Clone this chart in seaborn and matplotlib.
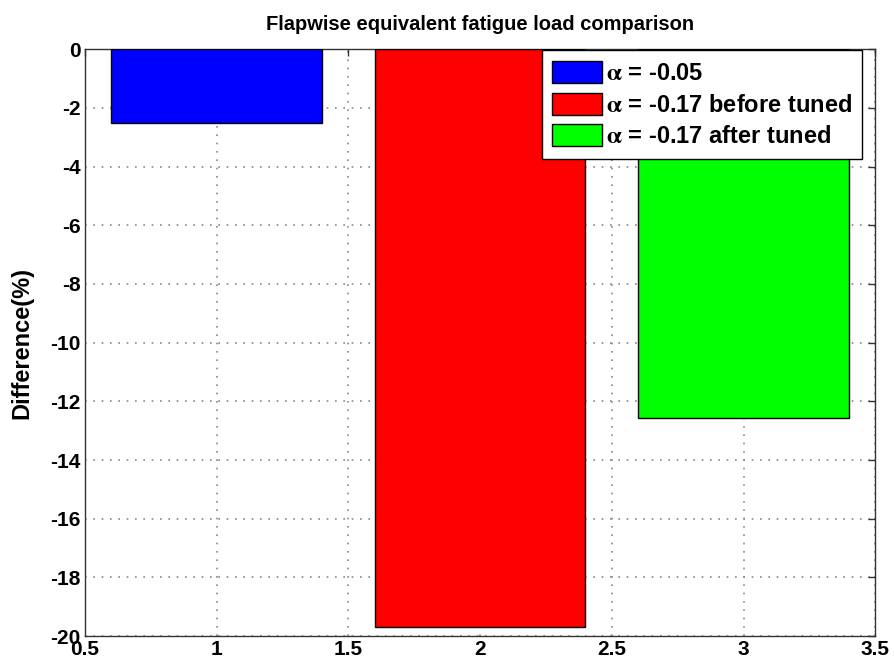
import pandas as pd
import numpy as np
import matplotlib.pyplot as plt
import seaborn as sns

# ==============================
# Data
# ==============================

positions = [1, 2, 3]
differences = [-2.5, -19.7, -12.57]
labels = [r"$\mathrm{\alpha}$ = -0.05",
          r"$\mathrm{\alpha}$ = -0.17 before tuned",
          r"$\mathrm{\alpha}$ = -0.17 after tuned"]
bar_colors = ["#0000ff", "#ff0000", "#00ff00"]

df = pd.DataFrame({"pos": positions, "diff": differences, "case": labels})

# ==============================
# Style
# ==============================

sns.set_style("white")
plt.rcParams["font.family"] = ["Liberation Sans", "DejaVu Sans"]
plt.rcParams["font.weight"] = "bold"
plt.rcParams["mathtext.fontset"] = "stix"
plt.rcParams["text.color"] = "black"
plt.rcParams["axes.labelcolor"] = "black"
plt.rcParams["xtick.color"] = "black"
plt.rcParams["ytick.color"] = "black"

fig = plt.figure(figsize=(8.94, 6.66), dpi=100)
ax = fig.add_axes([0.095, 0.045, 0.884, 0.881])

sns.barplot(
    data=df,
    x="pos",
    y="diff",
    hue="case",
    palette=bar_colors,
    saturation=1,
    native_scale=True,
    dodge=False,
    width=0.8,
    edgecolor="black",
    linewidth=1,
    ax=ax,
    zorder=3
)

# ==============================
# Axes
# ==============================

ax.set_xlim(0.5, 3.5)
ax.set_ylim(-20, 0)
ax.set_xticks(np.arange(0.5, 3.51, 0.5))
ax.set_xticklabels(["0.5", "1", "1.5", "2", "2.5", "3", "3.5"])
ax.set_yticks(np.arange(-20, 0.1, 2))
ax.set_yticklabels([str(int(v)) for v in np.arange(-20, 0.1, 2)])

ax.grid(True, linestyle=(0, (1, 4)), color="#888888", linewidth=1.2, zorder=0)
ax.set_axisbelow(True)

ax.tick_params(direction="in", length=5, width=1, top=True, right=True,
               labelsize=15, pad=3, color="#333333")
for lab in ax.get_xticklabels() + ax.get_yticklabels():
    lab.set_fontweight("bold")

for sp in ax.spines.values():
    sp.set_visible(True)
    sp.set_color("#333333")
    sp.set_linewidth(1)

ax.set_xlabel("")
ax.set_ylabel("Difference(%)", fontsize=17, fontweight="bold", labelpad=12)
ax.set_title("Flapwise equivalent fatigue load comparison",
             fontsize=14.5, fontweight="bold", pad=14)

# ==============================
# Legend
# ==============================

handles, leg_labels = ax.get_legend_handles_labels()
leg = ax.legend(handles, leg_labels, loc="upper right",
                bbox_to_anchor=(0.985, 1.0),
                prop={"size": 17, "weight": "bold"},
                frameon=True, fancybox=False, framealpha=1,
                edgecolor="black", handlelength=2.1, handleheight=1.05,
                handletextpad=0.15, labelspacing=0.32, borderpad=0.45,
                borderaxespad=0.05)
leg.get_frame().set_linewidth(1)
for p in leg.get_patches():
    p.set_edgecolor("black")
    p.set_linewidth(1)

plt.savefig("out.png", dpi=100)
plt.close()
